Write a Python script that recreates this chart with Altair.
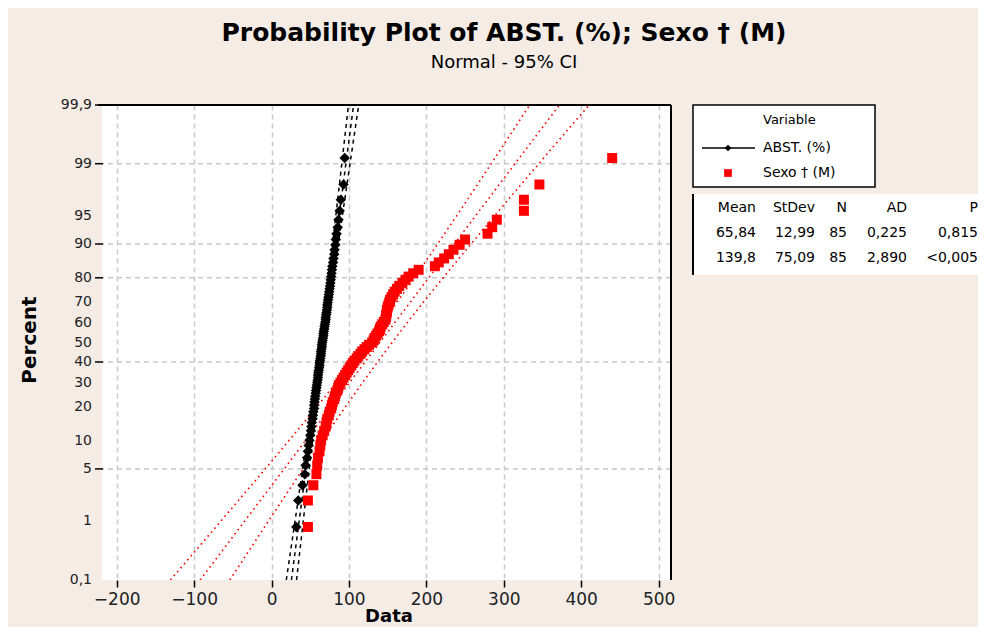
import altair as alt
import pandas as pd
import numpy as np
from statistics import NormalDist

# ---------------- data ----------------
series_names = ["ABST. (%)", "Sexo † (M)"]

abst = [32, 34.5, 40, 43, 44, 46, 47, 48, 49, 50,
        51, 51.5, 52, 53, 53.5, 54, 55, 55, 55.5, 56,
        56.5, 57, 57.5, 58, 58.5, 59, 59.5, 60, 60, 60.5,
        61, 61.5, 62, 62, 62.5, 63, 63.5, 64, 64, 64.5,
        65, 65, 65.5, 66, 66.5, 67, 67, 67.5, 68, 68.5,
        69, 69.5, 70, 70, 70.5, 71, 71.5, 72, 72, 72.5,
        73, 73.5, 74, 74.5, 75, 75.5, 76, 76.5, 77, 77.5,
        78, 78.5, 79.5, 80, 81, 81.5, 82.5, 83, 84, 85.5,
        86.5, 88, 89.5, 93, 94.5]

sexo = [47, 47, 54, 58, 59, 60, 62, 63, 64, 66,
        68, 70, 71, 72, 74, 75, 77, 78, 79, 81,
        82, 83, 85, 86, 87, 89, 91, 93, 95, 97,
        99, 101, 103, 105, 107, 110, 112, 115, 117, 120,
        123, 126, 130, 132, 133, 135, 137, 139, 140, 141,
        143, 145, 147, 148, 148, 149, 149, 150, 151, 152,
        153, 155, 157, 159, 162, 165, 169, 173, 177, 183,
        190, 211, 216, 223, 229, 235, 243, 250, 279, 285,
        291, 326, 326, 346, 440]

means = [65.84, 139.8]
stdevs = [12.99, 75.09]
mean_txt = ["65,84", "139,8"]
stdev_txt = ["12,99", "75,09"]
n_txt = ["85", "85"]
ad_txt = ["0,225", "2,890"]
p_txt = ["0,815", "<0,005"]

pct_ticks = [0.1, 1, 5, 10, 20, 30, 40, 50, 60, 70, 80, 90, 95, 99, 99.9]
pct_labels = ["0,1", "1", "5", "10", "20", "30", "40", "50", "60", "70",
              "80", "90", "95", "99", "99,9"]
grid_pcts = [5, 40, 80, 90, 99]
tickmark_pcts = [5, 40, 80, 90, 99, 99.9]
x_ticks = [-200, -100, 0, 100, 200, 300, 400, 500]

# ---------------- derived tables ----------------
nd = NormalDist()
N = 85
ZMAX = nd.inv_cdf(0.999)

def zpos(values):
    n = len(values)
    return [nd.inv_cdf((i + 1 - 0.3) / (n + 0.4)) for i in range(n)]

pts = pd.concat([
    pd.DataFrame({"series": series_names[0], "value": sorted(abst), "z": zpos(abst)}),
    pd.DataFrame({"series": series_names[1], "value": sorted(sexo), "z": zpos(sexo)}),
])

zg = np.linspace(-ZMAX, ZMAX, 81)
line_rows = []
for name, m, s in zip(series_names, means, stdevs):
    se = s / np.sqrt(N) * np.sqrt(1 + zg ** 2 / 2)
    fit = m + s * zg
    for kind, vals in (("fit", fit), ("lo", fit - 1.96 * se), ("hi", fit + 1.96 * se)):
        for zz, v in zip(zg, vals):
            line_rows.append({"series": name, "kind": kind, "z": zz, "value": v})
lines = pd.DataFrame(line_rows)

ytick_df = pd.DataFrame({"z": [nd.inv_cdf(p / 100) for p in pct_ticks], "lab": pct_labels})
grid_df = pd.DataFrame({"z": [nd.inv_cdf(p / 100) for p in grid_pcts]})
tickm_df = pd.DataFrame({"z": [nd.inv_cdf(p / 100) for p in tickmark_pcts]})

# ---------------- layout ----------------
W, H = 569, 475
FONT = "DejaVu Sans"
BG = "#F5ECE6"

xs = alt.Scale(domain=[-219, 516], nice=False, zero=False)
ys = alt.Scale(domain=[-ZMAX, ZMAX], nice=False, zero=False)

xaxis = alt.Axis(values=x_ticks, title=None, domain=False, grid=True,
                 gridColor="#C8C8C8", gridDash=[5, 4], gridWidth=1.5,
                 tickColor="black", tickSize=7, tickWidth=1.5,
                 labelFont=FONT, labelFontSize=17, labelColor="#222222", labelPadding=4,
                 labelOverlap=False)

one = pd.DataFrame({"a": [0]})

def txt(t, x, y, size=13, weight="normal", align="left", angle=0, color="black"):
    return alt.Chart(one).mark_text(
        text=t, font=FONT, fontSize=size, fontWeight=weight, align=align,
        baseline="middle", angle=angle, color=color
    ).encode(x=alt.value(x), y=alt.value(y))

grid_y = alt.Chart(grid_df).mark_rule(color="#C8C8C8", strokeDash=[5, 4], strokeWidth=1.5).encode(
    y=alt.Y("z:Q", scale=ys, axis=None))

axes_layer = alt.Chart(pts).mark_point(opacity=0).encode(
    x=alt.X("value:Q", scale=xs, axis=xaxis),
    y=alt.Y("z:Q", scale=ys, axis=None))

ylabels = alt.Chart(ytick_df).mark_text(
    font=FONT, fontSize=14, color="#222222", align="right", baseline="middle").encode(
    y=alt.Y("z:Q", scale=ys, axis=None), x=alt.value(-10), text="lab:N")

ytickmarks = alt.Chart(tickm_df).mark_rule(color="black", strokeWidth=1.5).encode(
    y=alt.Y("z:Q", scale=ys), x=alt.value(-7), x2=alt.value(1))

black_lines = alt.Chart(lines[lines.series == series_names[0]]).mark_line(
    color="black", strokeDash=[4, 4], strokeWidth=1.5, clip=True).encode(
    x=alt.X("value:Q", scale=xs), y=alt.Y("z:Q", scale=ys), detail="kind:N", order="z:Q")

red_lines = alt.Chart(lines[lines.series == series_names[1]]).mark_line(
    color="#FF0000", strokeDash=[1.6, 3.6], strokeWidth=1.6, clip=True).encode(
    x=alt.X("value:Q", scale=xs), y=alt.Y("z:Q", scale=ys), detail="kind:N", order="z:Q")

black_pts = alt.Chart(pts[pts.series == series_names[0]]).mark_point(
    shape="diamond", filled=True, color="black", size=110, opacity=1).encode(
    x=alt.X("value:Q", scale=xs), y=alt.Y("z:Q", scale=ys))

red_pts = alt.Chart(pts[pts.series == series_names[1]]).mark_point(
    shape="square", filled=True, color="#FF0000", size=100, opacity=1).encode(
    x=alt.X("value:Q", scale=xs), y=alt.Y("z:Q", scale=ys))

frame_top = alt.Chart(one).mark_rule(color="black", strokeWidth=2).encode(
    x=alt.value(-4), x2=alt.value(W), y=alt.value(0))
frame_right = alt.Chart(one).mark_rule(color="black", strokeWidth=2).encode(
    x=alt.value(W), y=alt.value(0), y2=alt.value(H))

# legend box
leg_box = alt.Chart(one).mark_rect(fill="white", stroke="black", strokeWidth=1.5).encode(
    x=alt.value(591), x2=alt.value(773), y=alt.value(0), y2=alt.value(82))
leg_line = alt.Chart(one).mark_rule(color="black", strokeWidth=1.5).encode(
    x=alt.value(600), x2=alt.value(653), y=alt.value(43))
leg_dia = alt.Chart(one).mark_point(shape="diamond", filled=True, color="black", size=45, opacity=1).encode(
    x=alt.value(626), y=alt.value(43))
leg_sq = alt.Chart(one).mark_point(shape="square", filled=True, color="#FF0000", size=60, opacity=1).encode(
    x=alt.value(626), y=alt.value(68))

# stats table
tab_box = alt.Chart(one).mark_rect(fill="white").encode(
    x=alt.value(591), x2=alt.value(890), y=alt.value(89), y2=alt.value(170))
tab_line = alt.Chart(one).mark_rule(color="black", strokeWidth=2).encode(
    x=alt.value(591), y=alt.value(89), y2=alt.value(170))

col_right = [654, 713, 745, 805, 876]
headers = ["Mean", "StDev", "N", "AD", "P"]
table_layers = []
for cx, h in zip(col_right, headers):
    table_layers.append(txt(h, cx, 103, size=14, align="right"))
for r, yy in enumerate([128, 153]):
    for cx, col in zip(col_right, [mean_txt, stdev_txt, n_txt, ad_txt, p_txt]):
        table_layers.append(txt(col[r], cx, yy, size=14, align="right"))

layers = [
    grid_y, axes_layer, ylabels, ytickmarks, black_lines, red_lines, black_pts, red_pts,
    frame_top, frame_right,
    txt("Probability Plot of ABST. (%); Sexo † (M)", 402, -72, size=25, weight="bold", align="center"),
    txt("Normal - 95% CI", 402, -42, size=18, align="center"),
    txt("Percent", -72, 235, size=20, weight="bold", align="center", angle=270),
    txt("Data", 287, 512, size=18, weight="bold", align="center"),
    leg_box, leg_line, leg_dia, leg_sq,
    txt("Variable", 661, 15, size=13),
    txt(series_names[0], 661, 43, size=14),
    txt(series_names[1], 661, 68, size=14),
    tab_box, tab_line,
] + table_layers

chart = alt.layer(*layers).properties(
    width=W, height=H,
    padding={"left": 94, "top": 97, "right": 970 - 94 - W, "bottom": 619 - 97 - H},
    autosize=alt.AutoSizeParams(type="none"),
    background=BG,
).configure_view(fill="white", stroke=None)

chart.save("out.html", embed_options={"renderer": "svg", "actions": False})
